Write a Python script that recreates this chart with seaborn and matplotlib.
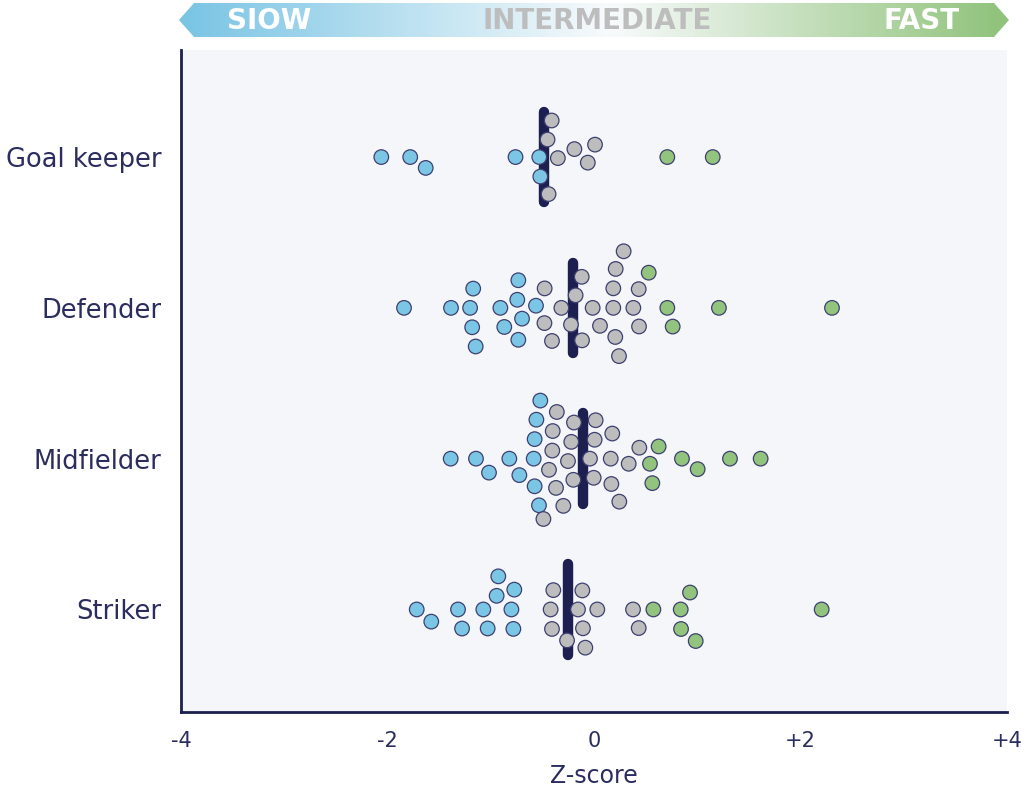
import numpy as np
import pandas as pd
import matplotlib
matplotlib.use("Agg")
import matplotlib.pyplot as plt
import seaborn as sns
from matplotlib.path import Path
from matplotlib.patches import PathPatch
from matplotlib.colors import LinearSegmentedColormap

# --- data -------------------------------------------------------------
positions = ["Goal keeper", "Defender", "Midfielder", "Striker"]

goal_keeper = [-2.06, -1.78, -1.63, -0.76, -0.53, -0.52, -0.45, -0.44,
               -0.41, -0.35, -0.19, -0.06, 0.01, 0.71, 1.15]
defender = [-1.84, -1.385, -1.17, -1.20, -1.146, -1.18, -0.907, -0.697,
            -0.733, -0.869, -0.733, -0.743, -0.562, -0.407, -0.48, -0.478,
            -0.316, -0.223, -0.178, -0.116, -0.119, -0.013, 0.058, 0.187,
            0.187, 0.206, 0.21, 0.287, 0.242, 0.436, 0.381, 0.433, 0.53,
            0.71, 0.762, 1.21, 2.305]
midfielder = [-1.388, -1.143, -1.017, -0.82, -0.723, -0.575, -0.52, -0.533,
              -0.584, -0.558, -0.575, -0.49, -0.36, -0.194, -0.404, -0.22,
              -0.368, -0.252, -0.40, -0.20, -0.436, -0.297, -0.003, -0.039,
              0.006, 0.016, 0.162, 0.168, 0.177, 0.245, 0.336, 0.439, 0.542,
              0.565, 0.626, 0.852, 1.004, 1.317, 1.614]
striker = [-1.717, -1.576, -1.278, -1.317, -1.03, -1.072, -0.927, -0.943,
           -0.781, -0.80, -0.772, -0.394, -0.407, -0.42, -0.261, -0.113,
           -0.155, 0.032, -0.107, -0.084, 0.378, 0.433, 0.575, 0.93, 0.843,
           0.84, 0.985, 2.205]

x_ticks = [-4, -2, 0, 2, 4]
x_tick_labels = ["-4", "-2", "0", "+2", "+4"]

speed_levels = ["Slow", "Intermediate", "Fast"]
band_labels = ["SIOW", "INTERMEDIATE", "FAST"]
slow_cut, fast_cut = -0.5, 0.5

# --- styling ------------------------------------------------------------
NAVY = "#1c1f4f"
TEXT = "#2b2d5e"
EDGE = "#3d4070"
palette = {"Slow": "#7cc6e5", "Intermediate": "#bdbdbd", "Fast": "#93c47d"}

values = {"Goal keeper": goal_keeper, "Defender": defender,
          "Midfielder": midfielder, "Striker": striker}
df = pd.DataFrame([(p, z) for p in positions for z in values[p]],
                  columns=["position", "z"])
df["speed"] = np.where(df["z"] < slow_cut, "Slow",
                       np.where(df["z"] > fast_cut, "Fast", "Intermediate"))

sns.set_theme(style="white")
plt.rcParams["font.family"] = ["DejaVu Sans"]

W, H = 1029, 789
fig = plt.figure(figsize=(W / 100, H / 100), dpi=100)
fig.patch.set_facecolor("white")

ax = fig.add_axes([181 / W, 1 - 712 / H, (1007 - 181) / W, (712 - 50) / H])
ax.set_facecolor("#f4f6f9")

# swarm laid out with a roomy collision size, dots drawn smaller afterwards
sns.swarmplot(data=df, x="z", y="position", order=positions,
              hue="speed", hue_order=speed_levels, palette=palette,
              size=12.6, linewidth=0.8, edgecolor=EDGE, orient="h",
              legend=False, ax=ax, zorder=3)
ax.set_xlim(-4, 4)
ax.set_ylim(3.68, -0.71)

# mean bar per position
for i, p in enumerate(positions):
    m = float(np.mean(values[p]))
    ax.plot([m, m], [i - 0.3, i + 0.3], color=NAVY, lw=7.5,
            solid_capstyle="round", zorder=2)

fig.canvas.draw()
for coll in list(ax.collections):
    off = coll.get_offsets()
    if len(off) == 0:
        continue
    fc = coll.get_facecolors()
    coll.remove()
    ax.scatter(off[:, 0], off[:, 1], s=110, c=fc, edgecolors=EDGE,
               linewidths=0.9, zorder=3)

ax.set_xticks(x_ticks)
ax.set_xticklabels(x_tick_labels, fontsize=15, color=TEXT)
ax.tick_params(axis="y", labelsize=18.5, labelcolor=TEXT)
ax.tick_params(axis="both", length=8, width=2, color=NAVY, direction="out",
               pad=6)
ax.set_xlabel("Z-score", fontsize=17, color=TEXT, labelpad=9)
ax.set_ylabel("")
ax.grid(False)
for side in ["top", "right"]:
    ax.spines[side].set_visible(False)
for side in ["left", "bottom"]:
    ax.spines[side].set_color(NAVY)
    ax.spines[side].set_linewidth(2)

# --- speed banner ------------------------------------------------------
bax = fig.add_axes([0, 0, 1, 1], zorder=5)
bax.set_xlim(0, W)
bax.set_ylim(H, 0)
bax.axis("off")
bax.patch.set_alpha(0)

x0, x1, y0, y1, tip = 179, 1009, 3, 37, 15
ym = (y0 + y1) / 2
verts = [(x0, ym), (x0 + tip, y0), (x1 - tip, y0), (x1, ym),
         (x1 - tip, y1), (x0 + tip, y1), (x0, ym)]
arrow = PathPatch(Path(verts, closed=True), facecolor="none",
                  edgecolor="none")
bax.add_patch(arrow)
cmap = LinearSegmentedColormap.from_list(
    "speed", [(0, "#79c4e4"), (0.52, "#f8fbfc"), (1, "#8fc27a")])
grad = np.linspace(0, 1, 512).reshape(1, -1)
img = bax.imshow(grad, cmap=cmap, extent=(x0, x1, y1, y0), aspect="auto",
                 interpolation="bilinear")
img.set_clip_path(arrow)

band_x = [269, 597, 922]
band_colors = ["white", "#bdbdbd", "white"]
for lbl, bx, c in zip(band_labels, band_x, band_colors):
    bax.text(bx, ym + 1, lbl, ha="center", va="center", fontsize=20,
             fontweight="bold", color=c)

fig.savefig("out.png", dpi=100, facecolor="white")
